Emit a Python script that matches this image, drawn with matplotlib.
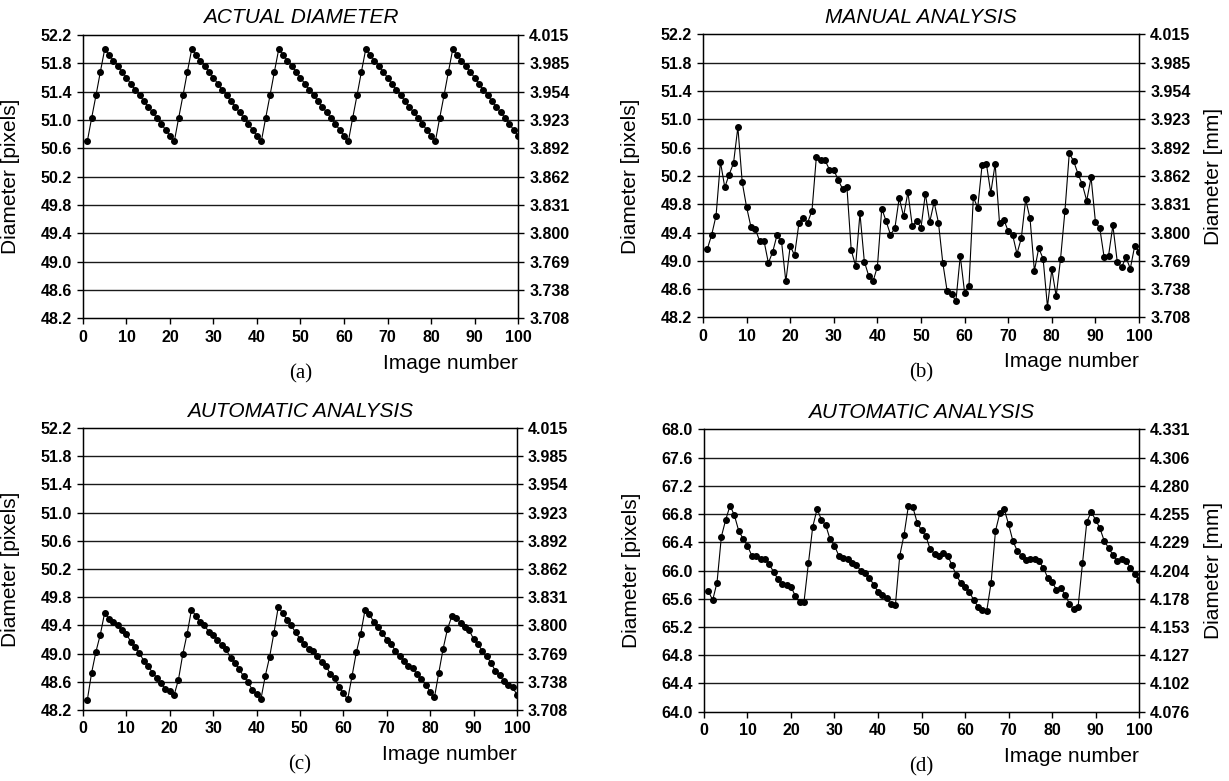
import matplotlib
matplotlib.use('Agg')
import matplotlib.pyplot as plt
import numpy as np

plt.rcParams['font.family'] = ['Liberation Sans', 'DejaVu Sans']

# номер изображения
img = list(range(1, 101))

# (a) реальный диаметр, пиксели
actual = [50.70, 51.03, 51.35, 51.68, 52.00, 51.92, 51.84, 51.76, 51.68, 51.60, 51.51, 51.43, 51.35, 51.27, 51.19, 51.11, 51.03, 50.95, 50.86, 50.78,
          50.70, 51.03, 51.35, 51.68, 52.00, 51.92, 51.84, 51.76, 51.68, 51.60, 51.51, 51.43, 51.35, 51.27, 51.19, 51.11, 51.03, 50.95, 50.86, 50.78,
          50.70, 51.03, 51.35, 51.68, 52.00, 51.92, 51.84, 51.76, 51.68, 51.60, 51.51, 51.43, 51.35, 51.27, 51.19, 51.11, 51.03, 50.95, 50.86, 50.78,
          50.70, 51.03, 51.35, 51.68, 52.00, 51.92, 51.84, 51.76, 51.68, 51.60, 51.51, 51.43, 51.35, 51.27, 51.19, 51.11, 51.03, 50.95, 50.86, 50.78,
          50.70, 51.03, 51.35, 51.68, 52.00, 51.92, 51.84, 51.76, 51.68, 51.60, 51.51, 51.43, 51.35, 51.27, 51.19, 51.11, 51.03, 50.95, 50.86, 50.78]

# (b) ручной анализ
manual = [49.17, 49.37, 49.64, 50.40, 50.04, 50.22, 50.38, 50.89, 50.11, 49.76, 49.48, 49.45, 49.28, 49.28, 48.97, 49.13, 49.37, 49.28, 48.71, 49.21,
          49.08, 49.53, 49.61, 49.54, 49.71, 50.47, 50.42, 50.42, 50.29, 50.29, 50.14, 50.02, 50.05, 49.15, 48.93, 49.67, 48.99, 48.79, 48.71, 48.92,
          49.74, 49.56, 49.37, 49.46, 49.89, 49.63, 49.97, 49.49, 49.56, 49.47, 49.95, 49.55, 49.83, 49.54, 48.97, 48.57, 48.53, 48.43, 49.07, 48.55,
          48.65, 49.90, 49.75, 50.35, 50.37, 49.96, 50.37, 49.54, 49.58, 49.42, 49.37, 49.10, 49.32, 49.87, 49.60, 48.86, 49.18, 49.03, 48.35, 48.88,
          48.50, 49.03, 49.70, 50.52, 50.41, 50.23, 50.08, 49.85, 50.18, 49.55, 49.46, 49.05, 49.07, 49.50, 48.99, 48.91, 49.05, 48.89, 49.21, 49.13]

# (c) автоматический анализ
auto_c = [48.34, 48.73, 49.03, 49.27, 49.58, 49.49, 49.45, 49.40, 49.33, 49.28, 49.17, 49.09, 49.01, 48.90, 48.83, 48.73, 48.66, 48.58, 48.50, 48.47,
          48.41, 48.63, 48.99, 49.28, 49.62, 49.54, 49.45, 49.40, 49.31, 49.27, 49.19, 49.12, 49.06, 48.94, 48.87, 48.78, 48.68, 48.60, 48.49, 48.43,
          48.35, 48.68, 48.95, 49.29, 49.66, 49.58, 49.48, 49.40, 49.30, 49.21, 49.14, 49.07, 49.04, 48.96, 48.88, 48.83, 48.71, 48.65, 48.53, 48.44,
          48.35, 48.68, 49.02, 49.28, 49.62, 49.56, 49.45, 49.38, 49.29, 49.20, 49.14, 49.04, 48.97, 48.90, 48.83, 48.79, 48.71, 48.64, 48.56, 48.46,
          48.38, 48.73, 49.07, 49.35, 49.53, 49.51, 49.44, 49.38, 49.33, 49.21, 49.14, 49.04, 48.97, 48.87, 48.76, 48.69, 48.61, 48.56, 48.52, 48.42]

# (d) автоматический анализ, другой диаметр
auto_d = [65.71, 65.58, 65.83, 66.48, 66.72, 66.92, 66.78, 66.56, 66.45, 66.35, 66.21, 66.20, 66.16, 66.17, 66.09, 65.98, 65.88, 65.81, 65.79, 65.77,
          65.64, 65.55, 65.56, 66.10, 66.62, 66.87, 66.72, 66.64, 66.44, 66.35, 66.21, 66.18, 66.16, 66.11, 66.08, 66.00, 65.96, 65.90, 65.80, 65.70,
          65.65, 65.61, 65.52, 65.51, 66.21, 66.51, 66.92, 66.90, 66.68, 66.57, 66.49, 66.30, 66.24, 66.20, 66.25, 66.21, 66.08, 65.93, 65.83, 65.76,
          65.70, 65.58, 65.49, 65.44, 65.43, 65.83, 66.56, 66.81, 66.87, 66.66, 66.42, 66.28, 66.21, 66.15, 66.16, 66.17, 66.13, 66.04, 65.90, 65.84,
          65.73, 65.75, 65.66, 65.53, 65.45, 65.49, 66.10, 66.69, 66.83, 66.72, 66.60, 66.42, 66.32, 66.22, 66.13, 66.16, 66.14, 66.04, 65.95, 65.87]

px_ticks_1 = [48.2, 48.6, 49.0, 49.4, 49.8, 50.2, 50.6, 51.0, 51.4, 51.8, 52.2]
mm_labels_1 = ['3.708', '3.738', '3.769', '3.800', '3.831', '3.862', '3.892', '3.923', '3.954', '3.985', '4.015']
px_ticks_2 = [64.0, 64.4, 64.8, 65.2, 65.6, 66.0, 66.4, 66.8, 67.2, 67.6, 68.0]
mm_labels_2 = ['4.076', '4.102', '4.127', '4.153', '4.178', '4.204', '4.229', '4.255', '4.280', '4.306', '4.331']
x_ticks = [0, 10, 20, 30, 40, 50, 60, 70, 80, 90, 100]


def panel(rect, y, title, letter, ticks, mm_labels, mm_label=True):
    ax = fig.add_axes(rect)
    ax.plot(img, y, color='black', lw=0.8, marker='o', ms=4.0, mfc='black', mec='black')
    ax.set_xlim(0, 100)
    ax.set_ylim(ticks[0], ticks[-1])
    ax.set_xticks(x_ticks)
    ax.set_yticks(ticks)
    ax.set_yticklabels(['%.1f' % t for t in ticks])
    for t in ticks[1:-1]:
        ax.axhline(t, color='#1a1a1a', lw=1.0, zorder=0)
    ax.tick_params(direction='out', length=4, width=1, labelsize=11.5, pad=4)
    for lab in ax.get_xticklabels() + ax.get_yticklabels():
        lab.set_fontweight('bold')
    for s in ax.spines.values():
        s.set_linewidth(1.0)
    ax.set_ylabel('Diameter [pixels]', fontsize=15)
    ax.yaxis.set_label_coords(-0.145, 0.5)
    ax.text(0.5, 1.06, title, transform=ax.transAxes, ha='center', va='center',
            fontsize=15, style='italic')
    ax.text(1.0, -0.157, 'Image number', transform=ax.transAxes, ha='right', va='center',
            fontsize=15)
    ax.text(0.5, -0.195, letter, transform=ax.transAxes, ha='center', va='center',
            fontsize=15, family='Liberation Serif')

    ax2 = ax.twinx()
    ax2.set_ylim(ticks[0], ticks[-1])
    ax2.set_yticks(ticks)
    ax2.set_yticklabels(mm_labels)
    ax2.tick_params(direction='out', length=4, width=1, labelsize=11.5, pad=4)
    for lab in ax2.get_yticklabels():
        lab.set_fontweight('bold')
    if mm_label:
        ax2.set_ylabel('Diameter [mm]', fontsize=15)
        ax2.yaxis.set_label_coords(1.15, 0.5)
    return ax


fig = plt.figure(figsize=(12.29, 7.81), dpi=100)

panel([0.0675, 0.5922, 0.354, 0.363], actual, 'ACTUAL DIAMETER', '(a)', px_ticks_1, mm_labels_1, mm_label=False)
panel([0.572, 0.5935, 0.3548, 0.3624], manual, 'MANUAL ANALYSIS', '(b)', px_ticks_1, mm_labels_1)
panel([0.0675, 0.0909, 0.3531, 0.361], auto_c, 'AUTOMATIC ANALYSIS', '(c)', px_ticks_1, mm_labels_1, mm_label=False)
panel([0.5728, 0.0887, 0.354, 0.3616], auto_d, 'AUTOMATIC ANALYSIS', '(d)', px_ticks_2, mm_labels_2)

fig.savefig('out.png', dpi=100)
